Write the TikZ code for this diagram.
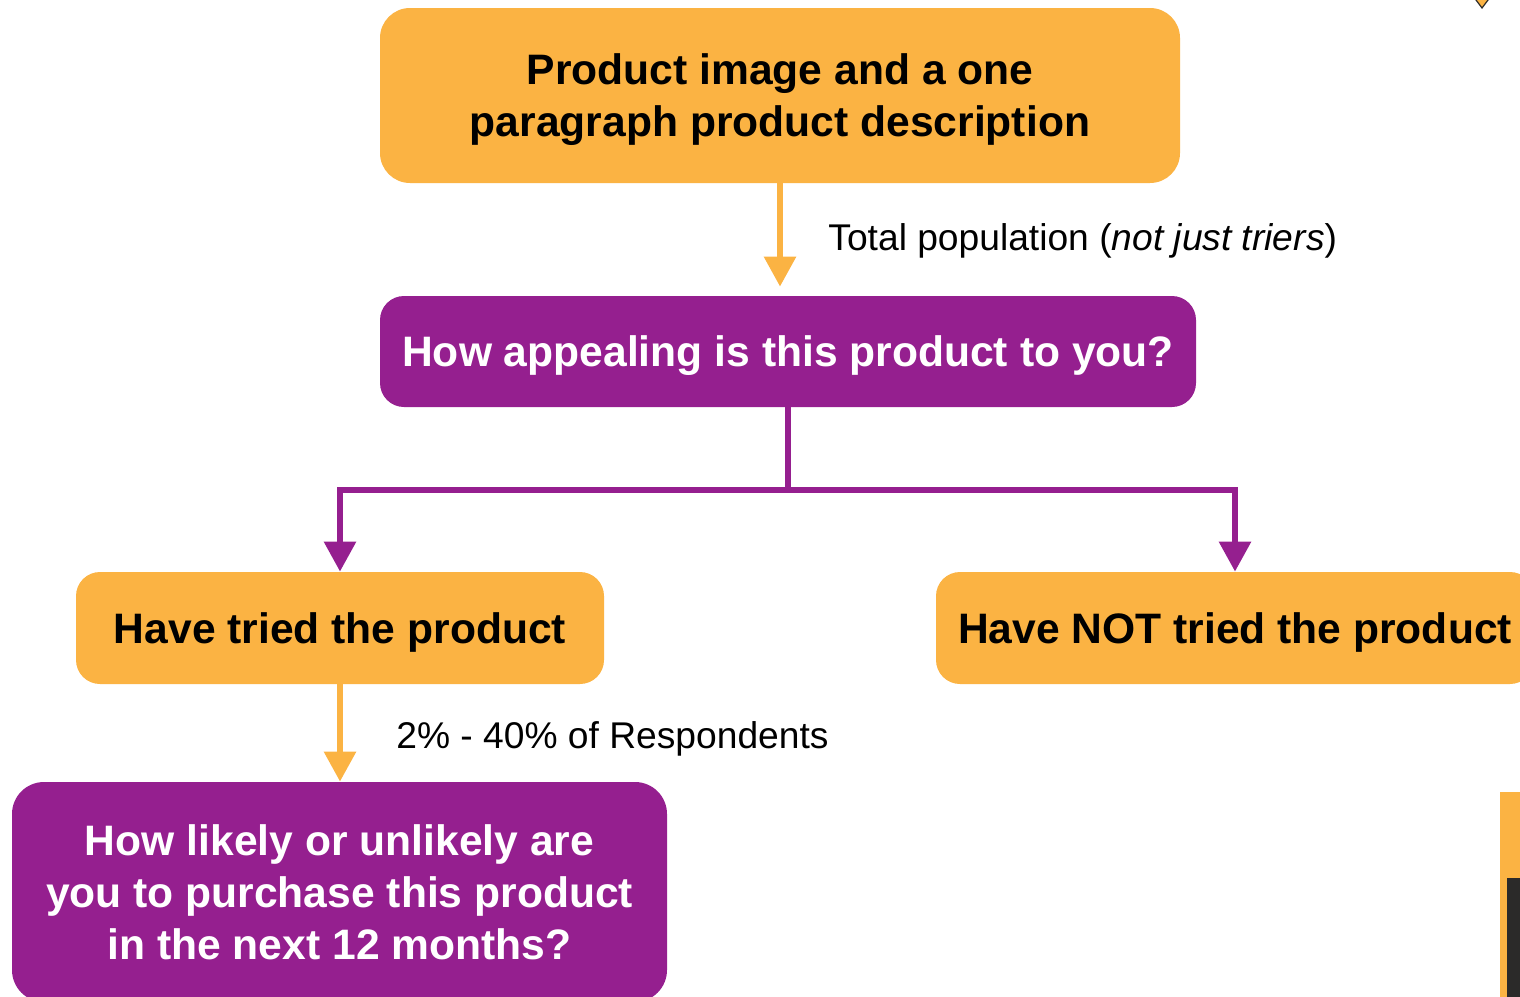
\documentclass[tikz,border=0pt]{standalone}
\usepackage{fontspec}
\setmainfont{Liberation Sans}
\usetikzlibrary{arrows.meta}
\definecolor{boxorange}{HTML}{FBB343}
\definecolor{boxpurple}{HTML}{951F8F}
\definecolor{darkedge}{HTML}{2B2A29}

\begin{document}
\begin{tikzpicture}[x=0.5pt,y=-0.5pt,
  box/.style={rounded corners=12pt,align=center,inner sep=0pt,text depth=0pt,
    font=\fontsize{21.3}{26}\selectfont\bfseries},
  orangebox/.style={box,fill=boxorange,text=black},
  purplebox/.style={box,fill=boxpurple,text=white},
  orangearrow/.style={draw=boxorange,line width=3pt,-{Triangle[width=15.5pt,length=15pt]}},
  purplearrow/.style={draw=boxpurple,line width=3pt,-{Triangle[width=15.5pt,length=15pt]}},
  note/.style={anchor=west,inner sep=0pt,font=\fontsize{18.6}{22}\selectfont}]

\useasboundingbox (0,0) rectangle (1520,996);
\clip (0,0) rectangle (1520,996);

% Boxes
\node[orangebox,rounded corners=15pt,minimum width=400pt,minimum height=87.5pt] (prodinfo) at (780,95.5) {Product image and a one\\paragraph product description};
\node[purplebox,minimum width=408pt,minimum height=55.5pt] (appeal) at (788,351.5) {How appealing is this product to you?};
\node[orangebox,minimum width=264pt,minimum height=56pt] (tried) at (340,628) {Have tried the product};
\node[orangebox,minimum width=299pt,minimum height=56pt] (nottried) at (1235,628) {Have NOT tried the product};
\node[purplebox,rounded corners=16pt,minimum width=327.5pt,minimum height=110pt] (purchase) at (339.5,892) {How likely or unlikely are\\you to purchase this product\\in the next 12 months?};

% Connectors
\draw[orangearrow,shorten >=4.5pt] (prodinfo.south) -- (prodinfo.south |- appeal.north);
\draw[purplearrow] (appeal.south) -- ++(0,83) -| (tried.north);
\draw[purplearrow] (appeal.south) -- ++(0,83) -| (nottried.north);
\draw[orangearrow] (tried.south) -- (tried.south |- purchase.north);

% Notes
\node[note] (popnote) at (828,241) {Total population (\textit{not just triers})};
\node[note] (respnote) at (396,739) {2\% - 40\% of Respondents};

% Cut-off shapes at the edge
\draw[fill=boxorange,draw=darkedge,line width=0.6pt] (1473,-4) -- (1491,-4) -- (1482,8) -- cycle;
\fill[boxorange] (1500,792) rectangle (1530,1000);
\fill[darkedge] (1507,878) rectangle (1530,1000);

\end{tikzpicture}
\end{document}
